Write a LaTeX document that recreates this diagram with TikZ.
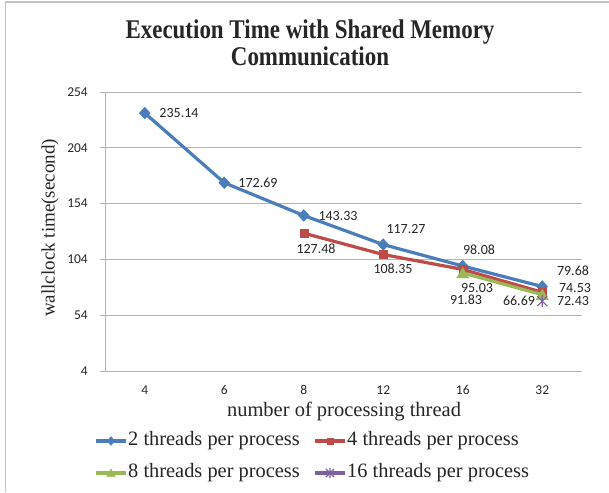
\documentclass[tikz,border=0pt]{standalone}
\usepackage{fontspec}
\setmainfont{Liberation Serif}
\newfontfamily\numfont{Carlito}
\usetikzlibrary{shapes.geometric,calc}

\definecolor{serA}{HTML}{4A7EBB}
\definecolor{serB}{HTML}{BE4B48}
\definecolor{serC}{HTML}{98B954}
\definecolor{serD}{HTML}{7D60A0}
\definecolor{gridc}{HTML}{B4B4B4}
\definecolor{framec}{HTML}{C4C4C4}
\definecolor{txt}{HTML}{262626}

\tikzset{
  gridline/.style={draw=gridc, line width=1pt},
  ytick/.style={font=\numfont\fontsize{13.5}{14}\selectfont, text=txt, anchor=east, inner sep=0pt},
  xtick/.style={font=\numfont\fontsize{13.5}{14}\selectfont, text=txt, inner sep=0pt},
  datalbl/.style={font=\numfont\fontsize{14}{15}\selectfont, text=txt, inner sep=0pt},
  axtitle/.style={font=\fontsize{20}{22}\selectfont, text=txt, inner sep=0pt},
  legtext/.style={font=\fontsize{20.4}{22}\selectfont, text=txt, inner sep=0pt, anchor=west},
  serline/.style={line width=3.2pt, line join=round},
  mkA/.style={diamond, fill=serA, draw=serA, inner sep=0pt, minimum width=11pt, minimum height=12pt},
  mkB/.style={rectangle, fill=serB, draw=serB, inner sep=0pt, minimum size=8pt},
  mkC/.style={regular polygon, regular polygon sides=3, fill=serC, draw=serC, inner sep=0pt, minimum size=14pt},
  mkD/.style={draw=serD, line width=1.1pt},
}

\begin{document}
\begin{tikzpicture}[x=1pt, y=-1pt,
  declare function={xc(\i)=105+79.5*(\i-0.5); yv(\v)=371-(\v-4)*1.116;}]
\useasboundingbox (0,0) rectangle (609,492);
\fill[white] (0,0) rectangle (609,492);

% outer frame (left and top edges)
\draw[framec, line width=1.4pt] (5.5,492) -- (5.5,2) -- (609,2);

% title
\node[font=\bfseries\fontsize{27}{27}\selectfont, text=txt, align=center, xscale=0.85] (title) at (310,43)
  {Execution Time with Shared Memory\\Communication};

% gridlines and value axis
\foreach \v in {54,104,154,204,254}
  \draw[gridline] (100,{yv(\v)}) -- (582,{yv(\v)});
\draw[gridline] (100,371) -- (582,371);
\draw[gridline] (105,{yv(254)}) -- (105,371);
\foreach \v in {4,54,104,154,204,254}
  \node[ytick] at (88,{yv(\v)}) {\v};

% category labels
\foreach \c [count=\i] in {4,6,8,12,16,32}
  \node[xtick] at ({xc(\i)},390) {\c};

% axis titles
\node[axtitle, rotate=90, font=\fontsize{19}{21}\selectfont] (ytitle) at (50,228) {wallclock time(second)};
\node[axtitle, font=\fontsize{20.5}{22}\selectfont] (xtitle) at (344,411) {number of processing thread};

% data points
\coordinate (a1) at ({xc(1)},{yv(235.14)});
\coordinate (a2) at ({xc(2)},{yv(172.69)});
\coordinate (a3) at ({xc(3)},{yv(143.33)});
\coordinate (a4) at ({xc(4)},{yv(117.27)});
\coordinate (a5) at ({xc(5)},{yv(98.08)});
\coordinate (a6) at ({xc(6)},{yv(79.68)});
\coordinate (b3) at ({xc(3)},{yv(127.48)});
\coordinate (b4) at ({xc(4)},{yv(108.35)});
\coordinate (b5) at ({xc(5)},{yv(95.03)});
\coordinate (b6) at ({xc(6)},{yv(74.53)});
\coordinate (c5) at ({xc(5)},{yv(91.83)});
\coordinate (c6) at ({xc(6)},{yv(72.43)});
\coordinate (d6) at ({xc(6)},{yv(66.69)});

% series 1: 2 threads per process
\draw[serline, serA] (a1) -- (a2) -- (a3) -- (a4) -- (a5) -- (a6);
\foreach \p in {a1,a2,a3,a4,a5,a6} \node[mkA] at (\p) {};
% series 2: 4 threads per process
\draw[serline, serB] (b3) -- (b4) -- (b5) -- (b6);
\foreach \p in {b3,b4,b5,b6} \node[mkB] at (\p) {};
% series 3: 8 threads per process
\draw[serline, serC] (c5) -- (c6);
\foreach \p in {c5,c6} \node[mkC, yshift=-1.5pt] at (\p) {};
% series 4: 16 threads per process (star marker)
\draw[mkD] ($(d6)+(0,-6)$) -- ($(d6)+(0,6)$)
           ($(d6)+(-5,-5)$) -- ($(d6)+(5,5)$)
           ($(d6)+(-5,5)$) -- ($(d6)+(5,-5)$);

% data labels
\node[datalbl] (la1) at (179,113) {235.14};
\node[datalbl] (la2) at (258,183) {172.69};
\node[datalbl] (la3) at (338,216) {143.33};
\node[datalbl] (la4) at (406,229) {117.27};
\node[datalbl] (la5) at (479,250) {98.08};
\node[datalbl] (la6) at (573,271) {79.68};
\node[datalbl] (lb3) at (316,249) {127.48};
\node[datalbl] (lb4) at (393,269) {108.35};
\node[datalbl] (lb5) at (477,288) {95.03};
\node[datalbl] (lb6) at (575,288) {74.53};
\node[datalbl] (lc5) at (466,300) {91.83};
\node[datalbl] (lc6) at (573,301) {72.43};
\node[datalbl] (ld6) at (519,301) {66.69};

% legend
\coordinate (ka1) at (96,441);  \coordinate (ka2) at (126,441);
\coordinate (kb1) at (315,441); \coordinate (kb2) at (345,441);
\coordinate (kc1) at (96,473);  \coordinate (kc2) at (126,473);
\coordinate (kd1) at (315,473); \coordinate (kd2) at (345,473);
\draw[serline, serA] (ka1) -- (ka2);
\node[mkA, minimum width=8pt, minimum height=9pt] at ($(ka1)!0.5!(ka2)$) {};
\node[legtext] (ta) at (128,441) {2 threads per process};
\draw[serline, serB] (kb1) -- (kb2);
\node[mkB, minimum size=6pt] at ($(kb1)!0.5!(kb2)$) {};
\node[legtext] (tb) at (347,441) {4 threads per process};
\draw[serline, serC] (kc1) -- (kc2);
\node[mkC, minimum size=10pt, yshift=-1pt] at ($(kc1)!0.5!(kc2)$) {};
\node[legtext] (tc) at (128,473) {8 threads per process};
\draw[serline, serD] (kd1) -- (kd2);
\coordinate (kdm) at ($(kd1)!0.5!(kd2)$);
\draw[mkD] ($(kdm)+(0,-5)$) -- ($(kdm)+(0,5)$)
           ($(kdm)+(-4,-4)$) -- ($(kdm)+(4,4)$)
           ($(kdm)+(-4,4)$) -- ($(kdm)+(4,-4)$);
\node[legtext] (td) at (347,473) {16 threads per process};
\end{tikzpicture}
\end{document}
